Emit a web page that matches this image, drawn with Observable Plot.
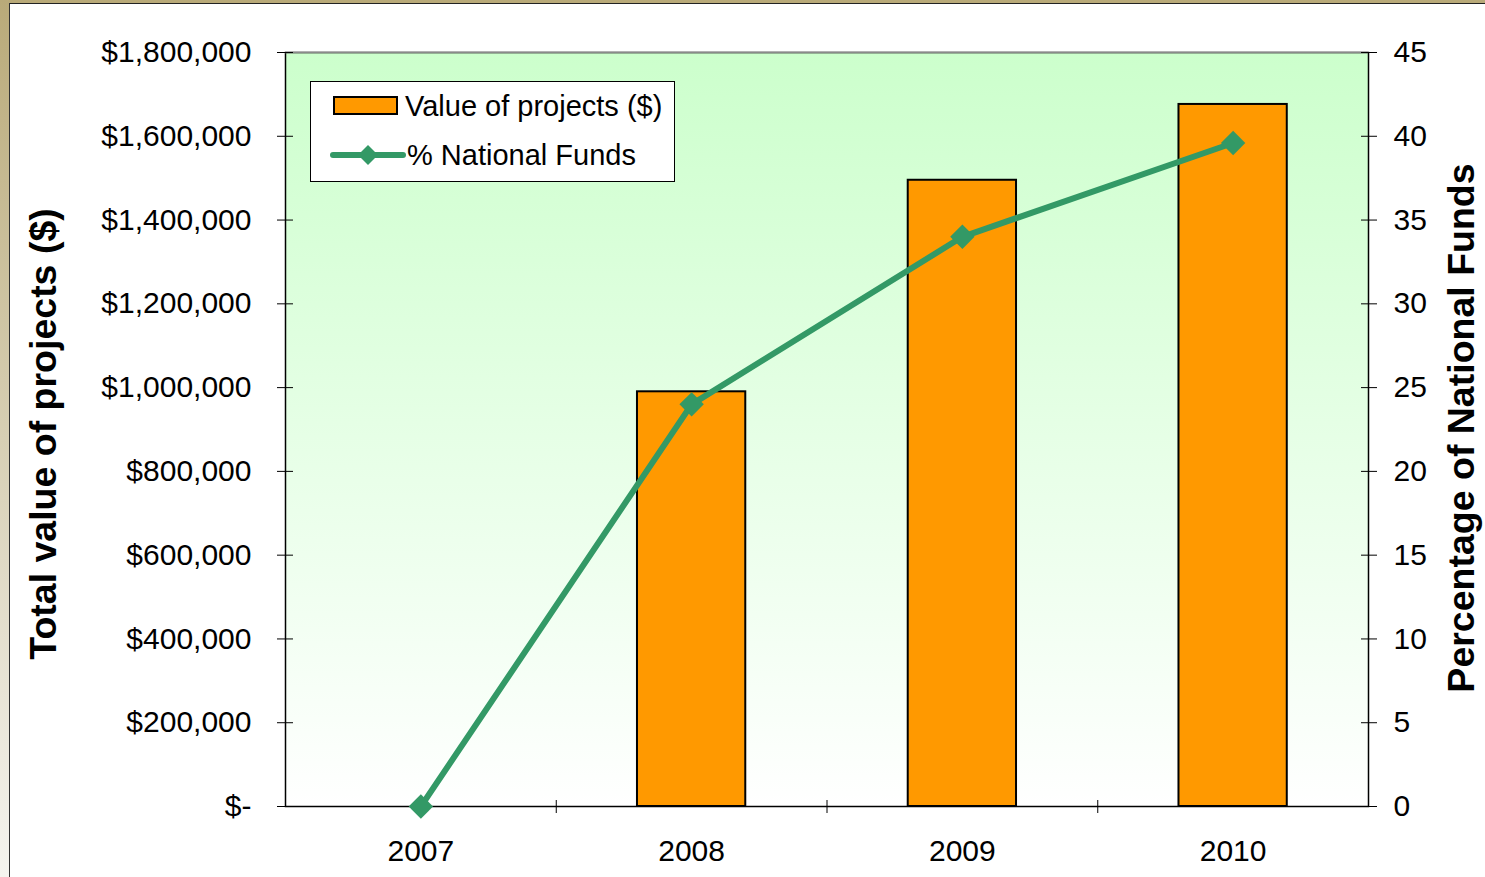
<!DOCTYPE html>
<html>
<head>
<meta charset="utf-8">
<script src="https://cdn.jsdelivr.net/npm/d3@7"></script>
<script src="https://cdn.jsdelivr.net/npm/@observablehq/plot@0.6"></script>
<style>
  html, body { margin: 0; padding: 0; background: #fff; }
  #wrap { position: relative; width: 1485px; height: 877px; overflow: hidden; background: #fff; font-family: "Liberation Sans", Arial, sans-serif; }
  #chart { position: absolute; left: 0; top: 0; }
  .frame-top { position: absolute; left: 0; top: 0; width: 1485px; height: 3px; background: #b9aa79; }
  .frame-top-line { position: absolute; left: 9px; top: 3px; width: 1476px; height: 1px; background: #222; }
  .frame-left { position: absolute; left: 0; top: 0; width: 9px; height: 877px; background: linear-gradient(#b9aa79, #f5f4ef); }
  .frame-left-line { position: absolute; left: 9px; top: 3px; width: 1px; height: 874px; background: #333; }
  .ytitle { position: absolute; font-weight: bold; font-size: 37.5px; color: #000; white-space: nowrap; transform: translate(-50%, -50%) rotate(-90deg); }
  #legend { position: absolute; left: 310px; top: 81px; width: 363px; height: 99px; border: 1px solid #000; background: #fff; }
  .lg-item { position: absolute; left: 0; font-size: 29px; color: #000; white-space: nowrap; }
</style>
</head>
<body>
<div id="wrap">
  <div class="frame-top"></div>
  <div class="frame-left"></div>
  <div class="frame-top-line"></div>
  <div class="frame-left-line"></div>
  <div id="chart"></div>
  <div class="ytitle" style="left:43px; top:434px;">Total value of projects ($)</div>
  <div class="ytitle" style="left:1461px; top:428px;">Percentage of National Funds</div>
  <div id="legend"></div>
</div>
<script>
// ---- Data ----
const years = ["2007", "2008", "2009", "2010"];
const projectValues = [0, 990000, 1495000, 1676000];
const nationalFundsPct = [0, 24, 34, 39.6];
const leftTicks = [0, 200000, 400000, 600000, 800000, 1000000, 1200000, 1400000, 1600000, 1800000];
const rightTicks = [0, 5, 10, 15, 20, 25, 30, 35, 40, 45];
const seriesNames = ["Value of projects ($)", "% National Funds"];
const colors = { bar: "#ff9900", line: "#339966" };

// ---- Layout ----
const W = 1485, H = 877;
const mL = 285, mR = 117, mT = 52, mB = 71;
const yMax = 1800000, pMax = 45;
const K = yMax / pMax; // convert percent to left-axis units
const halfStep = (W - mL - mR) / years.length / 2;

const data = years.map((y, i) => ({ year: y, value: projectValues[i], pct: nationalFundsPct[i] }));

const fmtLeft = d => d === 0 ? "$-" : "$" + d3.format(",")(d);

const svg = Plot.plot({
  width: W,
  height: H,
  marginLeft: mL,
  marginRight: mR,
  marginTop: mT,
  marginBottom: mB,
  style: { fontFamily: "'Liberation Sans', Arial, sans-serif", fontSize: "30px", background: "transparent", color: "#000" },
  x: { domain: years, paddingInner: 0.6, paddingOuter: 0.3, align: 0.5, round: false },
  y: { domain: [0, yMax] },
  marks: [
    Plot.frame({ fill: "url(#bgGrad)", stroke: "#000", strokeWidth: 1.5 }),
    Plot.ruleY([yMax], { stroke: "#8a8a8a", strokeWidth: 1.5 }),
    Plot.barY(data.filter(d => d.value > 0), { x: "year", y: "value", fill: colors.bar, stroke: "#000", strokeWidth: 2 }),
    Plot.line(data, { x: "year", y: d => d.pct * K, stroke: colors.line, strokeWidth: 6 }),
    Plot.dot(data, { x: "year", y: d => d.pct * K, symbol: "diamond2", r: 11, fill: colors.line, stroke: "none" }),
    // left axis
    Plot.axisY({ anchor: "left", ticks: leftTicks, tickSize: 8, tickPadding: 26, tickFormat: fmtLeft, label: null, fontSize: 30 }),
    Plot.axisY({ anchor: "left", ticks: leftTicks, tickSize: 8, dx: 8, text: null, label: null }),
    // right axis
    Plot.axisY({ anchor: "right", ticks: rightTicks.map(p => p * K), tickSize: 8, tickPadding: 17, tickFormat: d => String(Math.round(d / K)), label: null, fontSize: 30 }),
    Plot.axisY({ anchor: "right", ticks: rightTicks.map(p => p * K), tickSize: 8, dx: -8, text: null, label: null }),
    // x axis labels and boundary ticks
    Plot.axisX({ tickSize: 0, tickPadding: 33, label: null, fontSize: 30 }),
    Plot.axisX(years.slice(1), { tickSize: 13, dx: -halfStep, dy: -6, text: null, label: null })
  ]
});

// gradient background for the plot area
const defs = d3.select(svg).insert("defs", ":first-child");
const g = defs.append("linearGradient").attr("id", "bgGrad").attr("x1", 0).attr("y1", 0).attr("x2", 0).attr("y2", 1);
g.append("stop").attr("offset", "0%").attr("stop-color", "#ccffcc");
g.append("stop").attr("offset", "100%").attr("stop-color", "#ffffff");

document.getElementById("chart").appendChild(svg);

// ---- Legend ----
const legend = document.getElementById("legend");
legend.innerHTML = `
  <div class="lg-item" style="top:6px; left:22px;">
    <svg width="66" height="22" style="vertical-align:middle; margin-right:6px;">
      <rect x="1" y="2" width="63" height="17" fill="${colors.bar}" stroke="#000" stroke-width="2"/>
    </svg><span style="vertical-align:middle;">${seriesNames[0]}</span>
  </div>
  <div class="lg-item" style="top:55px; left:18px;">
    <svg width="78" height="26" style="vertical-align:middle;">
      <line x1="4" y1="13" x2="74" y2="13" stroke="${colors.line}" stroke-width="6" stroke-linecap="round"/>
      <path d="M39 3 L49 13 L39 23 L29 13 Z" fill="${colors.line}"/>
    </svg><span style="vertical-align:middle;">${seriesNames[1]}</span>
  </div>`;
</script>
</body>
</html>
